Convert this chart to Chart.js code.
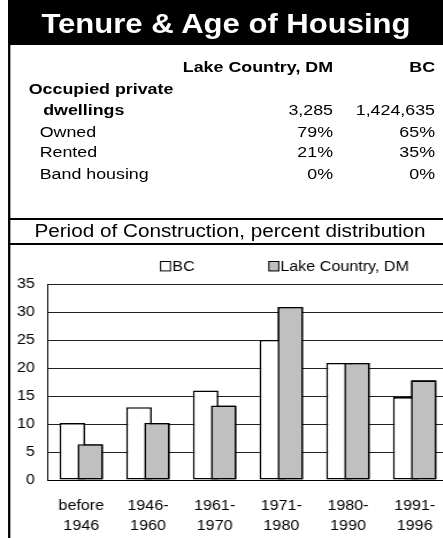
<!DOCTYPE html>
<html lang="en">

<head>
    <meta charset="UTF-8">
    <meta name="viewport" content="width=device-width, initial-scale=1.0">
    <title>Tenure &amp; Age of Housing</title>
    <style>
        html, body { margin: 0; padding: 0; background: #fff; width: 443px; height: 538px; overflow: hidden; }
        /* the whole sheet is a little wider than the font, so stretch it */
        #page { position: absolute; left: 0; top: 0; width: 400px; height: 538px;
                transform: scaleX(1.15); transform-origin: 0 0;
                font-family: "Liberation Sans", Arial, sans-serif; color: #000; }
        .t { position: absolute; white-space: nowrap; line-height: 1; font-size: 15.5px; }
        .b { font-weight: bold; }
        .r { text-align: right; width: 160px; }
        .c1 { left: 129.6px; }
        .c2 { left: 218.3px; }
        .rule { position: absolute; background: #000; }
        #chartBox { position: absolute; left: 0; top: 245px; width: 400px; height: 293px; }
    </style>
</head>

<body>
    <div id="page">
        <div class="rule" style="left:7px; top:0; width:393px; height:45px;"></div>
        <div class="t b" style="left:7px; width:379px; top:11px; font-size:27px; color:#fff; text-align:center;">Tenure &amp; Age of Housing</div>
        <div class="rule" style="left:7px; top:0; width:1.8px; height:538px;"></div>

        <div class="t b r c1" style="top:58.8px;">Lake Country, DM</div>
        <div class="t b r c2" style="top:58.8px;">BC</div>

        <div class="t b" style="left:25px; top:81.2px;">Occupied private</div>
        <div class="t b" style="left:37.5px; top:102px;">dwellings</div>
        <div class="t r c1" style="top:102px;">3,285</div>
        <div class="t r c2" style="top:102px;">1,424,635</div>

        <div class="t" style="left:34.5px; top:123.6px;">Owned</div>
        <div class="t r c1" style="top:123.6px;">79%</div>
        <div class="t r c2" style="top:123.6px;">65%</div>

        <div class="t" style="left:34.5px; top:144px;">Rented</div>
        <div class="t r c1" style="top:144px;">21%</div>
        <div class="t r c2" style="top:144px;">35%</div>

        <div class="t" style="left:34.5px; top:166px;">Band housing</div>
        <div class="t r c1" style="top:166px;">0%</div>
        <div class="t r c2" style="top:166px;">0%</div>

        <div class="rule" style="left:7px; top:218px; width:393px; height:2px;"></div>
        <div class="t" style="left:7px; width:386px; top:222.3px; font-size:18px; text-align:center;">Period of Construction, percent distribution</div>
        <div class="rule" style="left:7px; top:243px; width:393px; height:2px;"></div>

        <div id="chartBox"><canvas id="grafico"></canvas></div>
    </div>

    <script src="https://cdn.jsdelivr.net/npm/chart.js@4/dist/chart.umd.min.js"></script>
    <script>
        // datos
        const periodos = [['before', '1946'], ['1946-', '1960'], ['1961-', '1970'],
                          ['1971-', '1980'], ['1980-', '1990'], ['1991-', '1996']];
        const valoresBC = [10.2, 13.0, 16.0, 25.0, 20.9, 14.8];
        const valoresLakeCountry = [6.4, 10.2, 13.3, 30.9, 20.9, 17.8];
        const ejeYMin = 0;
        const ejeYMax = 35;
        const ejeYPaso = 5;

        const fuente = '"Liberation Sans", Arial, sans-serif';

        // leyenda propia: cuadrito pegado al texto, posiciones fijas
        const posLeyenda = [{ caja: 139.1, texto: 149.8 }, { caja: 233.3, texto: 243.8 }];
        const leyendaCajas = {
            id: 'leyendaCajas',
            afterDraw(chart) {
                const ctx = chart.ctx;
                ctx.save();
                ctx.font = '14px ' + fuente;
                ctx.textBaseline = 'alphabetic';
                chart.data.datasets.forEach((ds, i) => {
                    const p = posLeyenda[i];
                    ctx.fillStyle = ds.backgroundColor;
                    ctx.fillRect(p.caja, 16, 9.6, 10.4);
                    ctx.strokeStyle = '#000';
                    ctx.lineWidth = 1;
                    ctx.strokeRect(p.caja + 0.5, 16.5, 8.6, 9.4);
                    ctx.fillStyle = '#000';
                    ctx.fillText(ds.label, p.texto, 26.2);
                });
                ctx.restore();
            }
        };

        // las barras grises van encima de las blancas
        const grisEncima = {
            id: 'grisEncima',
            afterDatasetsDraw(chart) {
                chart.getDatasetMeta(1).controller.draw();
            }
        };

        const ctx = document.getElementById('grafico').getContext('2d');
        const grafica = new Chart(ctx, {
            type: 'bar',
            data: {
                labels: periodos,
                datasets: [{
                    label: 'BC',
                    data: valoresBC,
                    backgroundColor: '#ffffff',
                    borderColor: '#000',
                    borderWidth: 1.6,
                    borderSkipped: false
                }, {
                    label: 'Lake Country, DM',
                    data: valoresLakeCountry,
                    backgroundColor: '#c0c0c0',
                    borderColor: '#000',
                    borderWidth: 1.6,
                    borderSkipped: false
                }]
            },
            options: {
                responsive: true,
                maintainAspectRatio: false,
                animation: false,
                devicePixelRatio: 1,
                categoryPercentage: 0.54,
                barPercentage: 1.42,
                layout: { padding: { left: 0, right: 10.4, top: 39, bottom: 0 } },
                plugins: {
                    legend: { display: false },
                    tooltip: { enabled: false }
                },
                scales: {
                    x: {
                        grid: { display: false, drawTicks: false },
                        border: { display: true, color: '#000', width: 1 },
                        ticks: { color: '#000', padding: 16, maxRotation: 0, autoSkip: false,
                                 font: { family: fuente, size: 14, lineHeight: 1.43 } },
                        afterFit(scale) { scale.height = 58; }
                    },
                    y: {
                        min: ejeYMin,
                        max: ejeYMax,
                        grid: { color: '#222', lineWidth: 1, drawTicks: false },
                        border: { display: true, color: '#000', width: 1 },
                        ticks: { stepSize: ejeYPaso, color: '#000', padding: 11.3,
                                 font: { family: fuente, size: 14 } },
                        afterFit(scale) { scale.width = 41.7; }
                    }
                }
            },
            plugins: [leyendaCajas, grisEncima]
        });
    </script>
</body>

</html>
